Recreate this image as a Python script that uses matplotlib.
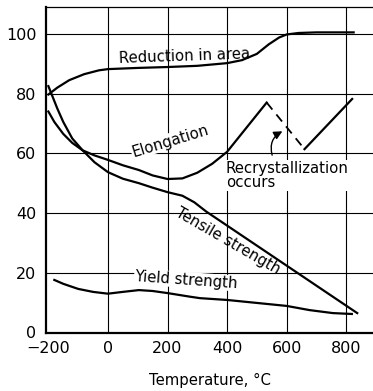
import matplotlib
matplotlib.use("Agg")
import matplotlib.pyplot as plt
from matplotlib.patches import FancyArrowPatch

# Mechanical properties of a metal versus temperature (°C)
reduction_t = [-200, -170, -130, -80, -30, 0, 100, 200, 300, 400, 450, 500, 540, 575, 600, 640, 700, 825]
reduction_v = [79.7, 82.0, 84.5, 86.5, 87.8, 88.2, 88.6, 88.9, 89.3, 90.2, 91.2, 93.3, 96.5, 98.8, 99.8, 100.3, 100.5, 100.5]

elong_t = [-200, -180, -150, -120, -85, -45, 0, 50, 104, 150, 200, 250, 300, 350, 400, 533]
elong_v = [74.0, 70.5, 66.5, 63.5, 61.0, 59.3, 57.8, 56.0, 54.4, 52.6, 51.4, 51.6, 53.5, 56.5, 60.5, 77.0]
# drop in elongation when recrystallization occurs
recryst_t = [533, 660]
recryst_v = [77.0, 61.4]
elong2_t = [660, 820]
elong2_v = [61.4, 78.2]

tensile_t = [-200, -190, -170, -150, -120, -85, -45, 0, 50, 104, 150, 200, 250, 290, 330, 837]
tensile_v = [82.5, 80.0, 75.0, 70.5, 65.0, 61.0, 57.0, 53.7, 51.5, 50.0, 48.5, 47.0, 45.8, 43.6, 40.5, 6.5]

yield_t = [-180, -150, -100, -50, -17, 0, 50, 104, 150, 200, 275, 309, 400, 510, 600, 677, 755, 819]
yield_v = [17.6, 16.3, 14.6, 13.6, 13.2, 13.0, 13.6, 14.2, 13.9, 13.2, 12.0, 11.5, 10.9, 9.8, 8.9, 7.5, 6.5, 6.2]

x_ticks = [-200, 0, 200, 400, 600, 800]
y_ticks = [0, 20, 40, 60, 80, 100]

plt.rcParams["font.family"] = ["DejaVu Sans"]

fig = plt.figure(figsize=(3.73, 3.91), dpi=100)
ax = fig.add_axes([46 / 373, (391 - 332.5) / 391, (373 - 46) / 373, 325.5 / 391])
ax.set_xlim(-208, 890)
ax.set_ylim(0, 109)

# grid
for x in x_ticks[1:]:
    ax.axvline(x, color="black", lw=0.8, zorder=1)
for y in y_ticks[1:]:
    ax.axhline(y, color="black", lw=0.8, zorder=1)

lw = 1.6
ax.plot(reduction_t, reduction_v, color="black", lw=lw, zorder=3)
ax.plot(elong_t, elong_v, color="black", lw=lw, zorder=3)
ax.plot(recryst_t, recryst_v, color="black", lw=1.3, ls=(0, (5, 3.5)), zorder=3)
ax.plot(elong2_t, elong2_v, color="black", lw=lw, zorder=3)
ax.plot(tensile_t, tensile_v, color="black", lw=lw, zorder=3)
ax.plot(yield_t, yield_v, color="black", lw=lw, zorder=3)

fs = 10.7
bg = dict(facecolor="white", edgecolor="none", pad=0.3)
ax.text(257, 92.6, "Reduction in area", fontsize=fs, ha="center", va="center",
        rotation=2, zorder=4)
ax.text(208, 64.1, "Elongation", fontsize=fs, ha="center", va="center",
        rotation=17, bbox=bg, zorder=2)
ax.text(396, 52.6, "Recrystallization\noccurs", fontsize=fs, ha="left", va="center",
        linespacing=0.95, bbox=bg, zorder=2)
ax.text(403, 30.6, "Tensile strength", fontsize=fs, ha="center", va="center",
        rotation=-30, zorder=4)
ax.text(262, 17.6, "Yield strength", fontsize=fs, ha="center", va="center",
        rotation=-4, bbox=bg, zorder=2)

arrow = FancyArrowPatch((554, 58.5), (594, 67.8), connectionstyle="arc3,rad=-0.45",
                        arrowstyle="-|>,head_length=5,head_width=2.5",
                        color="black", lw=1.0, zorder=5)
ax.add_patch(arrow)

ax.set_xticks(x_ticks)
ax.set_yticks(y_ticks)
ax.tick_params(length=0, labelsize=11.5)
ax.tick_params(axis="y", pad=7)
ax.tick_params(axis="x", pad=6)
ax.set_xlabel("Temperature, °C", fontsize=fs, labelpad=12)

ax.spines["right"].set_visible(False)
ax.spines["top"].set_linewidth(0.9)
ax.spines["left"].set_linewidth(1.6)
ax.spines["bottom"].set_linewidth(1.6)

fig.savefig("out.png", dpi=100)
